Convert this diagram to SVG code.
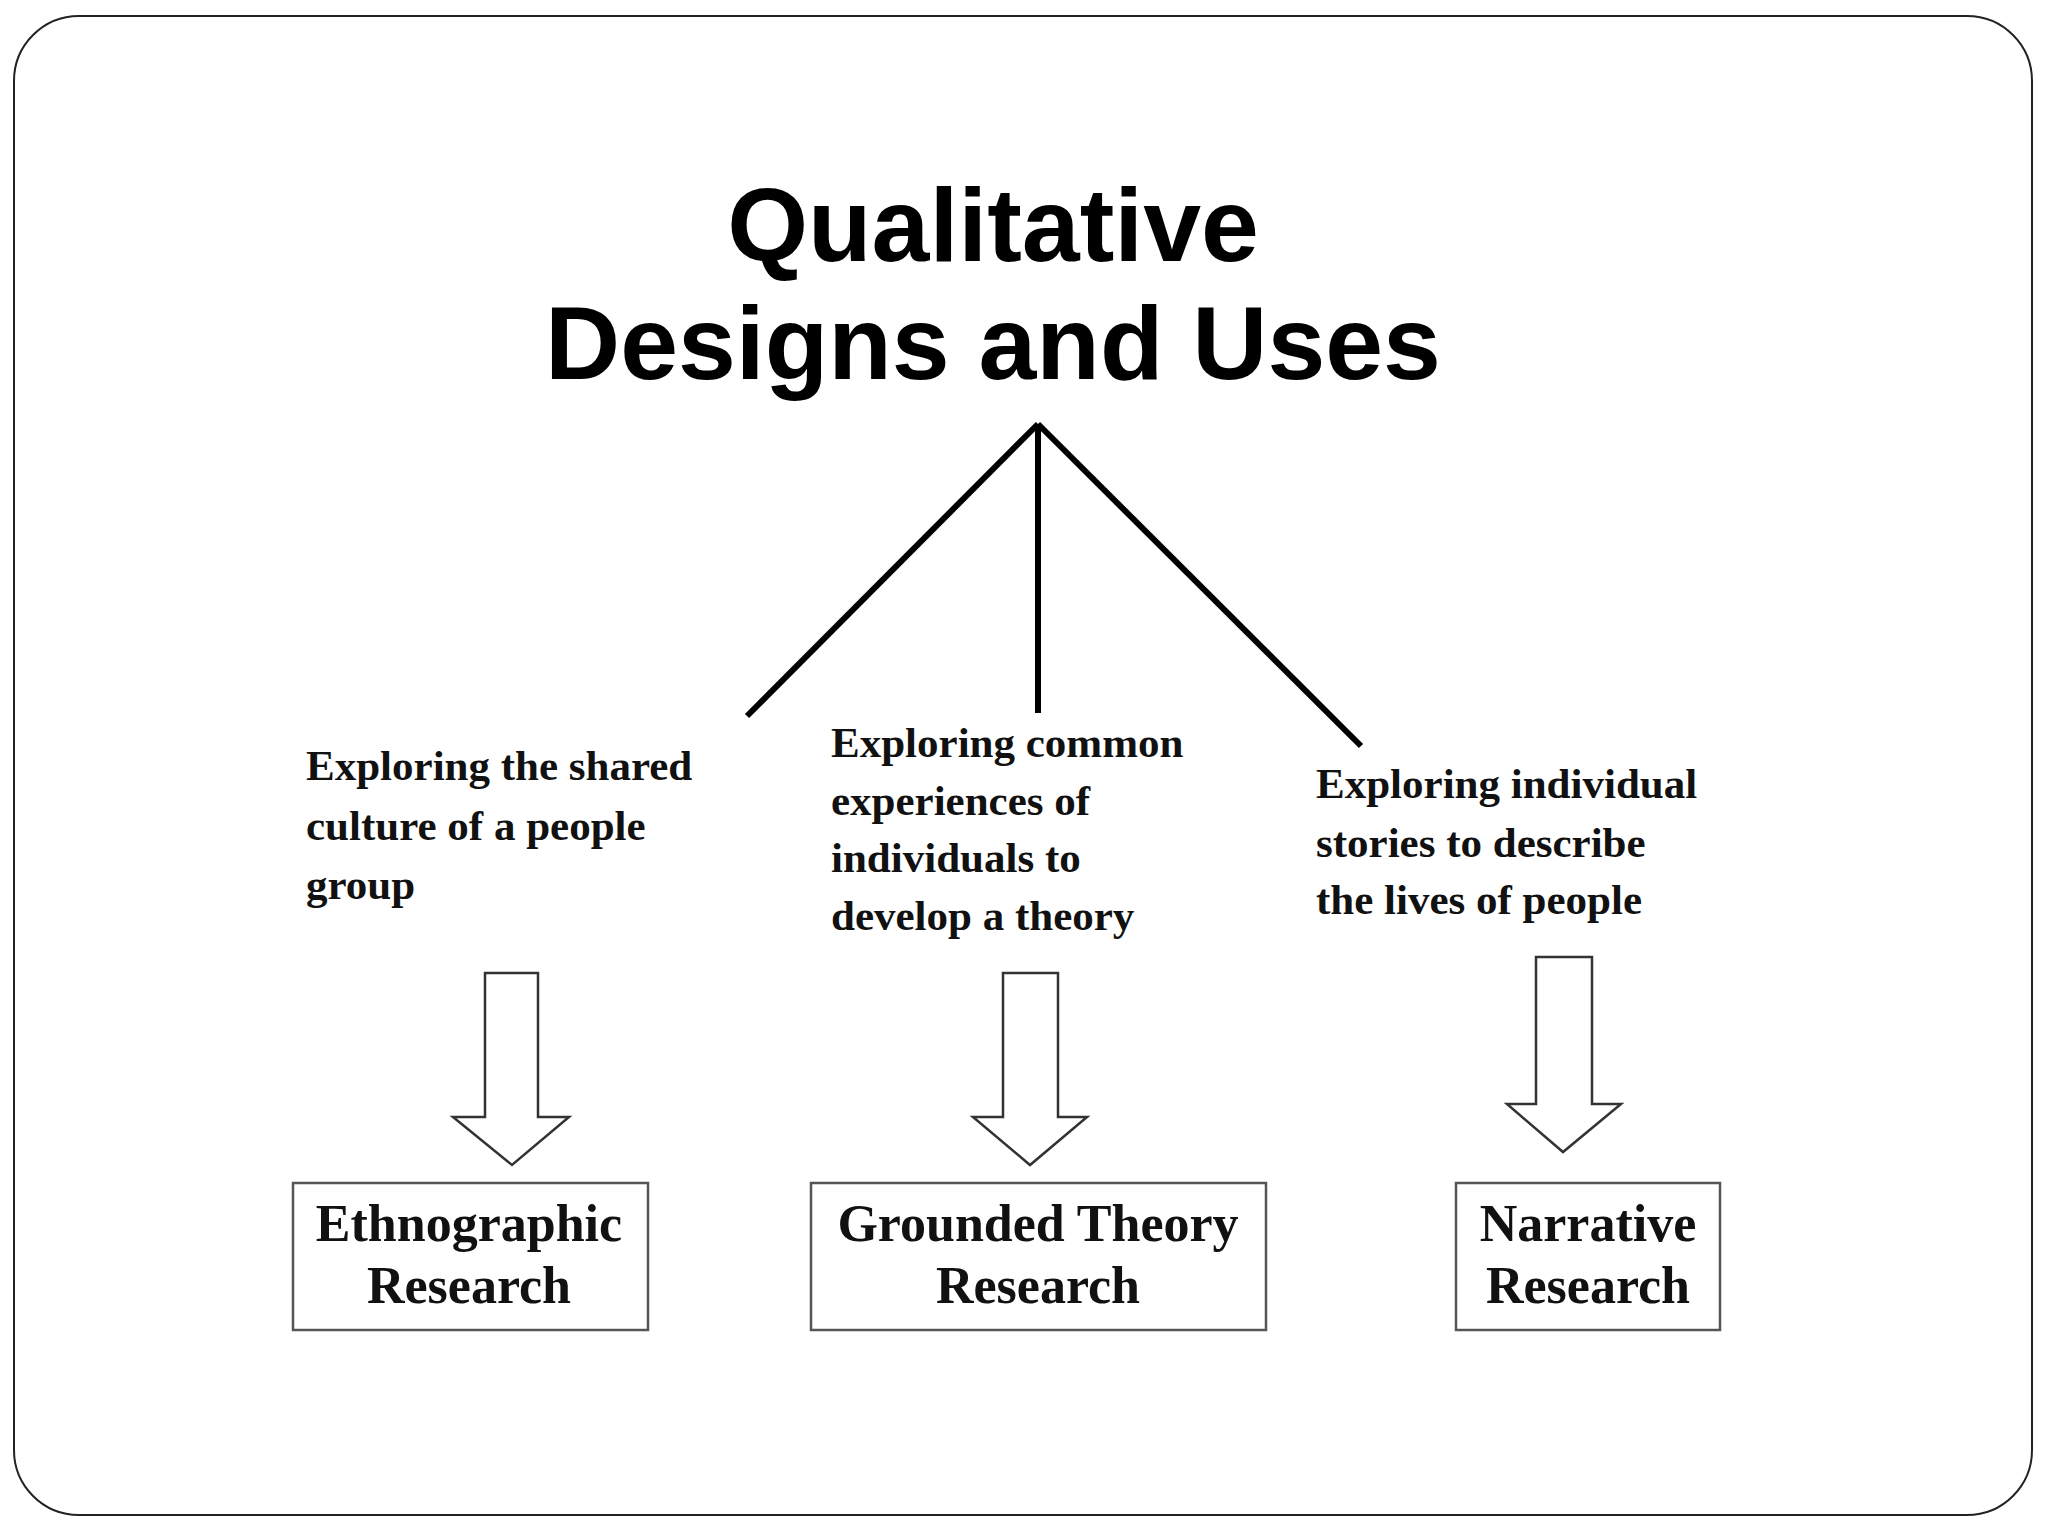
<svg xmlns="http://www.w3.org/2000/svg" width="2048" height="1536" viewBox="0 0 2048 1536">
<style>
.t{font-family:"Liberation Sans",Arial,sans-serif;font-weight:bold;font-size:104px;text-anchor:middle;fill:#000}
.d{font-family:"Liberation Serif","Times New Roman",serif;font-weight:bold;font-size:43px;fill:#111}
.b{font-family:"Liberation Serif","Times New Roman",serif;font-weight:bold;font-size:52px;fill:#111;text-anchor:middle}
.box{fill:#fff;stroke:#555;stroke-width:2.5}
.arr{fill:#fff;stroke:#333;stroke-width:2.5}
</style>
<rect x="14" y="16" width="2018" height="1499" rx="65" fill="#fff" stroke="#222" stroke-width="2"/>
<g id="title"><text class="t" x="993" y="261">Qualitative</text><text class="t" x="993" y="379">Designs and Uses</text></g>
<g id="connectors" stroke="#000" stroke-width="6" fill="none">
<line x1="1038" y1="424" x2="747" y2="716"/><line x1="1038" y1="424" x2="1038" y2="713"/><line x1="1038" y1="424" x2="1361" y2="746"/>
<path class="arr" d="M485 973H538V1117H569L512 1165L453 1117H485Z"/>
<path class="arr" d="M1003 973H1058V1117H1087L1030 1165L973 1117H1003Z"/>
<path class="arr" d="M1536 957H1592V1104H1621L1563 1152L1507 1104H1536Z"/>
</g>
<g id="desc1"><text class="d" x="306"><tspan x="306" y="780">Exploring the shared</tspan><tspan x="306" y="840">culture of a people</tspan><tspan x="306" y="899">group</tspan></text></g>
<g id="desc2"><text class="d"><tspan x="831" y="757">Exploring common</tspan><tspan x="831" y="815">experiences of</tspan><tspan x="831" y="872">individuals to</tspan><tspan x="831" y="930">develop a theory</tspan></text></g>
<g id="desc3"><text class="d"><tspan x="1316" y="798">Exploring individual</tspan><tspan x="1316" y="857">stories to describe</tspan><tspan x="1316" y="914">the lives of people</tspan></text></g>
<g id="n1"><rect class="box" x="293" y="1183" width="355" height="147"/><text class="b" x="469" y="1241">Ethnographic</text><text class="b" x="469" y="1303">Research</text></g>
<g id="n2"><rect class="box" x="811" y="1183" width="455" height="147"/><text class="b" x="1038" y="1241">Grounded Theory</text><text class="b" x="1038" y="1303">Research</text></g>
<g id="n3"><rect class="box" x="1456" y="1183" width="264" height="147"/><text class="b" x="1588" y="1241">Narrative</text><text class="b" x="1588" y="1303">Research</text></g>
</svg>
